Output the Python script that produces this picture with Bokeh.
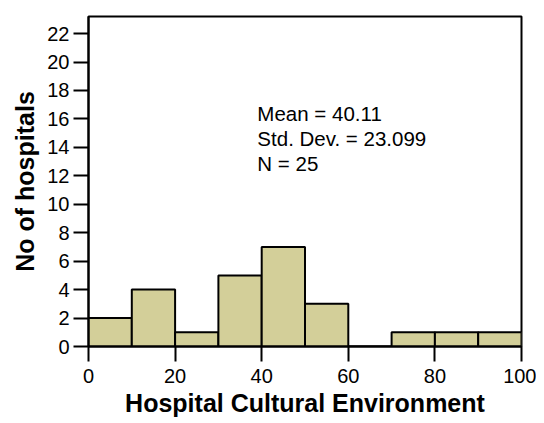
from bokeh.plotting import figure
from bokeh.models import FixedTicker, Range1d, ColumnDataSource
from bokeh.core.properties import value
from bokeh.embed import file_html
from bokeh.resources import INLINE

bin_left = [0, 10, 20, 30, 40, 50, 60, 70, 80, 90]
bin_right = [10, 20, 30, 40, 50, 60, 70, 80, 90, 100]
counts = [2, 4, 1, 5, 7, 3, 0, 1, 1, 1]
y_ticks = [0, 2, 4, 6, 8, 10, 12, 14, 16, 18, 20, 22]
x_ticks = [0, 20, 40, 60, 80, 100]
stats_text = ["Mean = 40.11", "Std. Dev. = 23.099", "N = 25"]
stats_x = [39, 39, 39]
stats_y = [16.4, 14.65, 12.9]

FONT = "Liberation Sans"

p = figure(width=536, height=423, output_backend="svg", toolbar_location=None,
           x_range=Range1d(0, 100), y_range=Range1d(0, 23.2),
           min_border_left=88, min_border_right=15, min_border_top=16, min_border_bottom=77)

src = ColumnDataSource(dict(left=bin_left, right=bin_right, top=counts, bottom=[0] * len(counts)))
p.quad(left="left", right="right", top="top", bottom="bottom", source=src,
       fill_color="#D3CF99", line_color="black", line_width=2)

tsrc = ColumnDataSource(dict(x=stats_x, y=stats_y, t=stats_text))
p.text(x="x", y="y", text="t", source=tsrc, text_font=value(FONT), text_font_size="20.5px",
       text_baseline="middle", text_align="left", text_color="black")

p.xgrid.visible = False
p.ygrid.visible = False
p.outline_line_color = "black"
p.outline_line_width = 2
p.background_fill_color = "white"
p.border_fill_color = "white"

for ax in (p.xaxis[0], p.yaxis[0]):
    ax.axis_line_width = 2
    ax.axis_line_color = "black"
    ax.major_tick_line_width = 2
    ax.major_tick_line_color = "black"
    ax.major_tick_in = 0
    ax.major_tick_out = 15
    ax.minor_tick_line_color = None
    ax.major_label_text_font = FONT
    ax.major_label_text_font_size = "20px"
    ax.major_label_text_color = "black"
    ax.axis_label_text_font = FONT
    ax.axis_label_text_font_size = "25px"
    ax.axis_label_text_font_style = "bold"
    ax.axis_label_text_color = "black"

p.xaxis[0].ticker = FixedTicker(ticks=x_ticks)
p.yaxis[0].ticker = FixedTicker(ticks=y_ticks)
p.xaxis[0].axis_label = "Hospital Cultural Environment"
p.yaxis[0].axis_label = "No of hospitals"
p.xaxis[0].major_label_standoff = 7
p.yaxis[0].major_label_standoff = 4
p.xaxis[0].axis_label_standoff = 3
p.yaxis[0].axis_label_standoff = 5

open("out.html", "w").write(file_html(p, INLINE))
